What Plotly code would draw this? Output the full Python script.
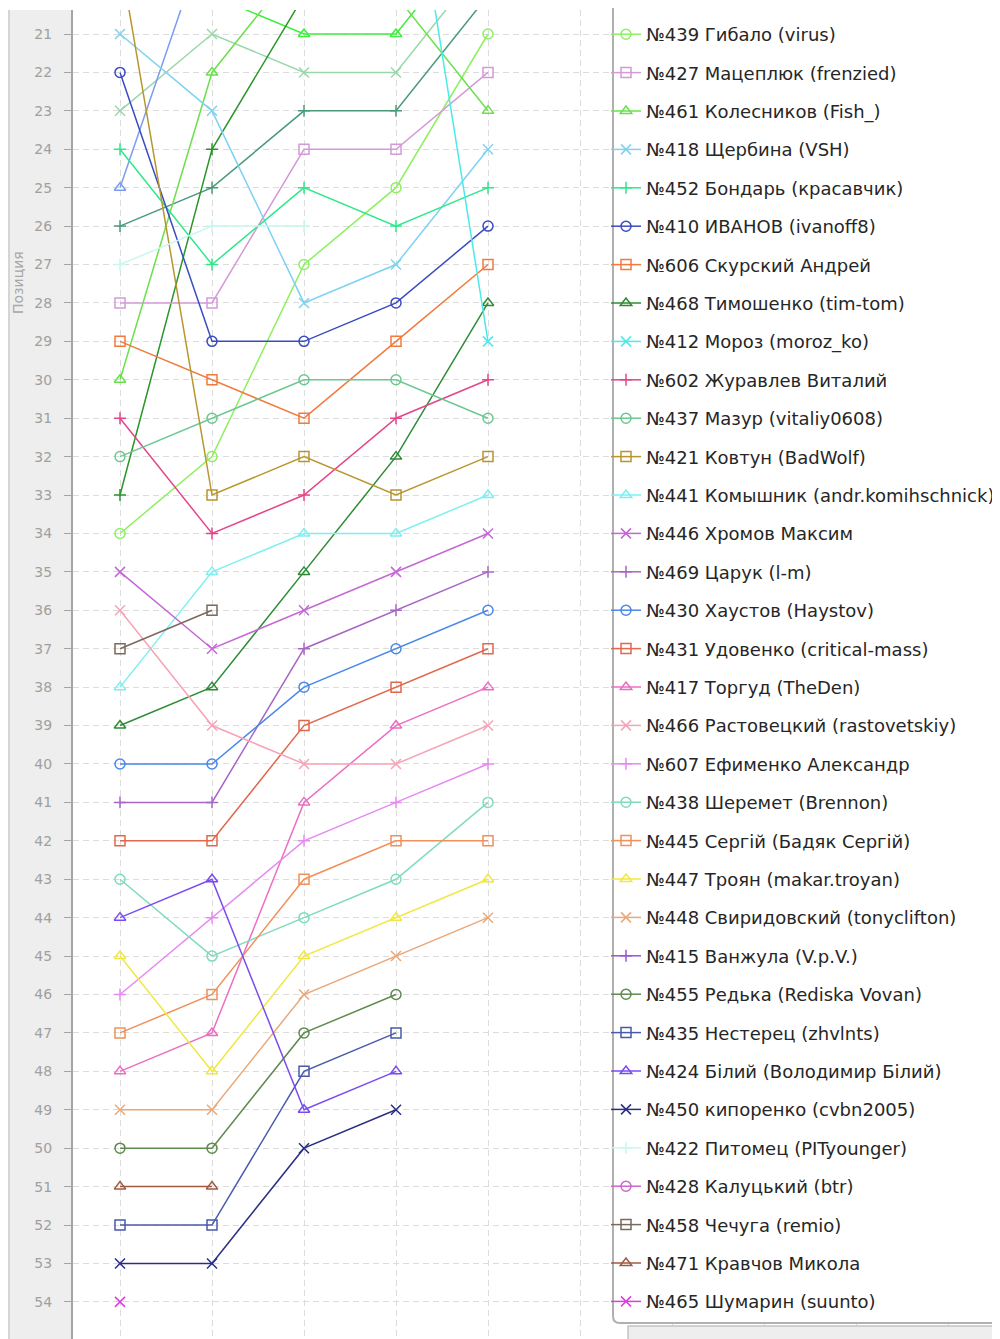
import plotly.graph_objects as go

rounds = [1, 2, 3, 4, 5]

# series shown in the legend, in legend order (final standing)
names = [
    "№439 Гибало (virus)", "№427 Мацеплюк (frenzied)", "№461 Колесников (Fish_)",
    "№418 Щербина (VSH)", "№452 Бондарь (красавчик)", "№410 ИВАНОВ (ivanoff8)",
    "№606 Скурский Андрей", "№468 Тимошенко (tim-tom)", "№412 Мороз (moroz_ko)",
    "№602 Журавлев Виталий", "№437 Мазур (vitaliy0608)", "№421 Ковтун (BadWolf)",
    "№441 Комышник (andr.komihschnick)", "№446 Хромов Максим", "№469 Царук (l-m)",
    "№430 Хаустов (Haystov)", "№431 Удовенко (critical-mass)", "№417 Торгуд (TheDen)",
    "№466 Растовецкий (rastovetskiy)", "№607 Ефименко Александр", "№438 Шеремет (Brennon)",
    "№445 Сергій (Бадяк Сергій)", "№447 Троян (makar.troyan)", "№448 Свиридовский (tonyclifton)",
    "№415 Ванжула (V.p.V.)", "№455 Редька (Rediska Vovan)", "№435 Нестерец (zhvlnts)",
    "№424 Білий (Володимир Білий)", "№450 кипоренко (cvbn2005)", "№422 Питомец (PITyounger)",
    "№428 Калуцький (btr)", "№458 Чечуга (remio)", "№471 Кравчов Микола",
    "№465 Шумарин (suunto)",
]

positions = [
    [34, 32, 27, 25, 21], [28, 28, 24, 24, 22], [30, 22, 19, 20, 23],
    [21, 23, 28, 27, 24], [24, 27, 25, 26, 25], [22, 29, 29, 28, 26],
    [29, 30, 31, 29, 27], [39, 38, 35, 32, 28], [12, 13, 13, 14, 29],
    [31, 34, 33, 31, 30], [32, 31, 30, 30, 31], [19, 33, 32, 33, 32],
    [38, 35, 34, 34, 33], [35, 37, 36, 35, 34], [41, 41, 37, 36, 35],
    [40, 40, 38, 37, 36], [42, 42, 39, 38, 37], [48, 47, 41, 39, 38],
    [36, 39, 40, 40, 39], [46, 44, 42, 41, 40], [43, 45, 44, 43, 41],
    [47, 46, 43, 42, 42], [45, 48, 45, 44, 43], [49, 49, 46, 45, 44],
    [8, 10, 12, 15, None], [50, 50, 47, 46, None], [52, 52, 48, 47, None],
    [44, 43, 49, 48, None], [53, 53, 50, 49, None], [27, 26, 26, None, None],
    [14, 16, None, None, None], [37, 36, None, None, None], [51, 51, None, None, None],
    [54, None, None, None, None],
]

colors = [
    "#8ef060", "#d49ad8", "#6ce04c", "#7fd2f0", "#2ee88a", "#3a4cc0",
    "#f27a3c", "#2e8b36", "#4ceaea", "#e4468a", "#6cc890", "#b8962e",
    "#7ef0f0", "#c468d4", "#a866c4", "#4a88ea", "#e0684c", "#ec6ec2",
    "#f6a4b6", "#e68af2", "#7edcbc", "#f0905a", "#f0e840", "#eaa878",
    "#9a55d0", "#5e8a4e", "#4a5aaa", "#7a4cf0", "#2a2f85", "#c8f8ee",
    "#cc66cc", "#7a6a5c", "#a05a42", "#dd3ddd",
]

symbols = ["circle", "square", "triangle", "x", "plus"] * 7

# series whose legend entries sit above the visible window
hidden_positions = [
    [23, 21, 22, 22, 19],
    [25, 18, 15, 16, 17],
    [26, 25, 23, 23, 20],
    [17, 20, 21, 21, 18],
    [33, 24, 20, 17, 16],
]
hidden_colors = ["#9ad8aa", "#7b9cf0", "#4a9a7a", "#3cf03c", "#2a962a"]
hidden_symbols = ["x", "triangle", "plus", "triangle", "plus"]

marker_style = {
    "circle": ("circle-open", 10),
    "square": ("square-open", 10),
    "triangle": ("triangle-up-open", 10),
    "x": ("x-thin-open", 10),
    "plus": ("cross-thin-open", 8.5),
}

fig = go.Figure()

for pos, col, sym in zip(hidden_positions, hidden_colors, hidden_symbols):
    s, sz = marker_style[sym]
    fig.add_trace(go.Scatter(x=rounds, y=pos, mode="lines+markers", showlegend=False,
                             line=dict(color=col, width=1.5),
                             marker=dict(symbol=s, size=sz, color=col, line=dict(width=1.5, color=col))))

for i, (nm, pos, col, sym) in enumerate(zip(names, positions, colors, symbols)):
    s, sz = marker_style[sym]
    fig.add_trace(go.Scatter(x=rounds, y=pos, name=nm, legendgroup=str(i), mode="lines+markers",
                             line=dict(color=col, width=1.5),
                             marker=dict(symbol=s, size=sz, color=col, line=dict(width=1.5, color=col))))

# the page body has an 8px margin, so the figure is drawn at (8, 8) on screen.
# helpers map screen pixels to paper coords (plot area on screen: x 73..1000, y 10..1339)
def px(v):
    return (v - 73) / 927


def py(v):
    return (1339 - v) / 1329


shapes = [
    # grey left panel
    dict(type="rect", xref="paper", yref="paper", x0=px(0), x1=px(72), y0=0, y1=1,
         fillcolor="#eeeeee", line_width=0, layer="below"),
    dict(type="line", xref="paper", yref="paper", x0=px(9), x1=px(9), y0=0, y1=1,
         line=dict(color="#cccccc", width=1.5)),
    # legend panel
    dict(type="path", xref="paper", yref="paper", layer="above",
         path=(f"M{px(613)},{py(-10)} L{px(613)},{py(1316)} "
               f"Q{px(613)},{py(1323)} {px(620)},{py(1323)} "
               f"L{px(1010)},{py(1323)} L{px(1010)},{py(-10)} Z"),
         fillcolor="white", line=dict(color="#b0b0b0", width=2)),
    dict(type="rect", xref="paper", yref="paper", layer="above",
         x0=px(628), x1=px(1010), y0=py(1350), y1=py(1326),
         fillcolor="#eeeeee", line=dict(color="#c4c4c4", width=1.5)),
]

fig.update_layout(
    width=992, height=1331,
    margin=dict(l=65, r=0, t=2, b=0),
    paper_bgcolor="white", plot_bgcolor="white",
    font=dict(family="DejaVu Sans", color="#222222"),
    showlegend=True,
    legend=dict(x=px(606), xanchor="left", y=py(16), yanchor="top",
                bgcolor="rgba(0,0,0,0)", borderwidth=0,
                font=dict(family="DejaVu Sans", size=18, color="#262626"),
                traceorder="grouped", tracegroupgap=12.0, itemwidth=30),
    xaxis=dict(range=[1 - 47 / 92, 1 + 927 / 92 - 47 / 92], dtick=1, tick0=0,
               showticklabels=False, showline=False, zeroline=False,
               showgrid=True, gridcolor="#dcdcdc", griddash="6px,4px", gridwidth=1),
    yaxis=dict(range=[21 + 1305 / 38.42, 21 - 24 / 38.42], dtick=1, tick0=0,
               showline=True, linecolor="#a4a4a4", linewidth=2,
               ticks="outside", ticklen=7, tickcolor="#a4a4a4", ticklabelstandoff=9,
               tickfont=dict(family="DejaVu Sans", size=14, color="#a0a0a0"),
               zeroline=False, showgrid=True, gridcolor="#dcdcdc", griddash="6px,4px", gridwidth=1),
    shapes=shapes,
    annotations=[dict(text="Позиция", xref="paper", yref="paper", x=px(18), y=py(283),
                      xanchor="center", yanchor="middle",
                      showarrow=False, textangle=-90,
                      font=dict(family="DejaVu Sans", size=14, color="#a8a8a8"))],
)

fig.write_html("out.html")
